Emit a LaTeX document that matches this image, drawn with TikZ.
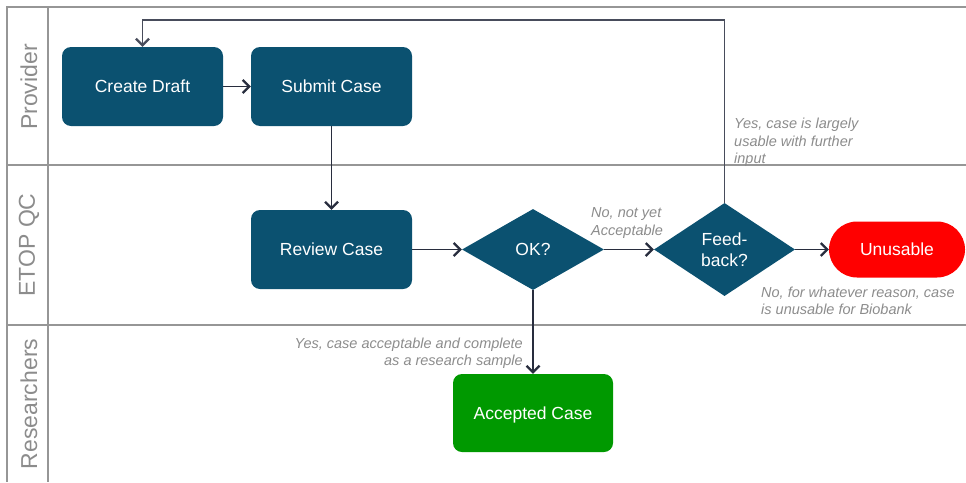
\documentclass[tikz,border=0pt]{standalone}
\usepackage{fontspec}
\setmainfont{Liberation Sans}
\usetikzlibrary{arrows.meta,shapes.geometric}
\definecolor{teal}{RGB}{11,81,112}
\definecolor{okgreen}{RGB}{0,153,0}
\definecolor{badred}{RGB}{255,0,0}
\definecolor{lanegray}{RGB}{150,150,150}
\definecolor{labelgray}{RGB}{140,140,140}
\definecolor{flowcol}{RGB}{40,45,62}
\tikzset{
  lane/.style={draw=lanegray, line width=1.4pt},
  lanelabel/.style={rotate=90, text=labelgray, font=\fontsize{23}{27}\selectfont},
  boxfont/.style={font=\fontsize{17.5}{21}\selectfont, text=white},
  procbox/.style={fill=teal, rounded corners=9pt, minimum width=161pt, minimum height=79pt,
    boxfont, inner sep=0pt, text depth=0pt, text height=12.5pt},
  decision/.style={diamond, fill=teal, inner sep=0pt, aspect=1.5, boxfont, align=center},
  flow/.style={draw=flowcol, line width=1.3pt,
    -{Straight Barb[length=6.5pt,width=13pt,line width=2.2pt]}},
  loopline/.style={draw=flowcol!85!white, line width=1.1pt,
    -{Straight Barb[length=6.5pt,width=13pt,line width=2.2pt]}},
  note/.style={text=labelgray, font=\fontsize{14.5}{17.5}\selectfont\itshape, inner sep=0pt}
}
\begin{document}
\begin{tikzpicture}[x=1pt,y=-1pt]
\useasboundingbox (0,0) rectangle (966,482);

% swimlane frame
\draw[lane] (966,7) -- (7,7) -- (7,482);
\draw[lane] (48,7) -- (48,482);
\draw[lane] (7,165) -- (966,165);
\draw[lane] (7,325) -- (966,325);

% lane titles
\node[lanelabel] (lprov) at (29,87) {Provider};
\node[lanelabel] (letop) at (29,245) {ETOP QC};
\node[lanelabel] (lres) at (29,404) {Researchers};

% process steps
\node[procbox] (cd) at (142.5,86.5) {Create Draft};
\node[procbox] (sc) at (331.5,86.5) {Submit Case};
\node[procbox] (rc) at (331.5,249.5) {Review Case};
\node[decision, minimum width=142pt, minimum height=81pt] (ok) at (533,249.5) {OK?};
\node[decision, minimum width=141pt, minimum height=93pt] (fb) at (724.5,249.5) {Feed-\\back?};
\node[fill=badred, rounded corners=28pt, minimum width=136pt, minimum height=56pt,
  boxfont, inner sep=0pt, text depth=0pt, text height=12.5pt] (un) at (897,249.5) {Unusable};
\node[procbox, fill=okgreen, minimum width=160pt, minimum height=78pt] (ac) at (533,413) {Accepted Case};

% connectors
\coordinate (top) at (0,20);
\draw[flow] (cd) -- (sc);
\draw[flow] (sc) -- (rc);
\draw[flow] (rc) -- (ok);
\draw[flow] (ok) -- (fb);
\draw[flow] (fb) -- (un);
\draw[flow] (ok.south) -- (ac.north);
\draw[loopline] (fb.north) -- (fb.north |- top) -| (cd.north);

% branch notes
\node[note, anchor=north west, align=left] (nyes) at (734,118)
  {Yes, case is largely\\usable with further\\input};
\node[note, anchor=north west, align=left] (nno) at (591,207.5)
  {No, not yet\\Acceptable};
\node[note, anchor=north west, align=left] (nbad) at (761,286.5)
  {No, for whatever reason, case\\is unusable for Biobank};
\node[note, anchor=north east, align=right] (nacc) at (523,337.5)
  {Yes, case acceptable and complete\\as a research sample};
\end{tikzpicture}
\end{document}
